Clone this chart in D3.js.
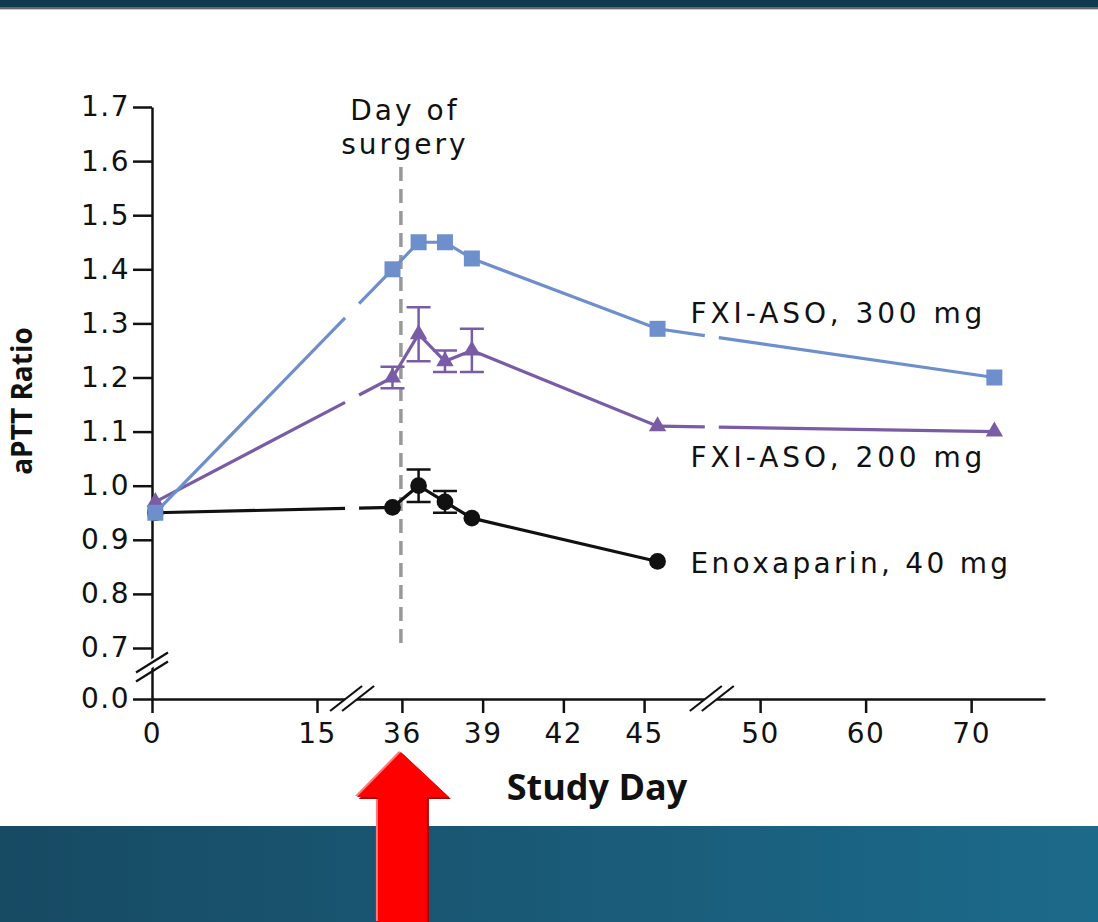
<!DOCTYPE html>
<html>
<head>
<meta charset="utf-8">
<script src="https://cdn.jsdelivr.net/npm/d3@7"></script>
<style>
  body { margin: 0; background: #fff; }
  svg { display: block; }
</style>
</head>
<body>
<svg></svg>
<script>
const svgWidth = 1098;
const svgHeight = 922;

const days300 = [0.3, 35.65, 36.62, 37.6, 38.6, 45.5, 72.2];
const aptt300 = [0.95, 1.40, 1.45, 1.45, 1.42, 1.29, 1.20];

const days200 = [0.3, 35.65, 36.62, 37.6, 38.6, 45.5, 72.2];
const aptt200 = [0.97, 1.20, 1.28, 1.23, 1.25, 1.11, 1.10];
const err200  = [0, 0.02, 0.05, 0.02, 0.04, 0, 0];

const daysEnox = [0.3, 35.65, 36.62, 37.6, 38.6, 45.5];
const apttEnox = [0.95, 0.96, 1.00, 0.97, 0.94, 0.86];
const errEnox  = [0, 0, 0.03, 0.02, 0, 0];

const xTicks = [0, 15, 36, 39, 42, 45, 50, 60, 70];
const yTicks = [0.0, 0.7, 0.8, 0.9, 1.0, 1.1, 1.2, 1.3, 1.4, 1.5, 1.6, 1.7];
const surgeryDay = 36;
const xBreaks = [19.4, 47.2];
const yBreak = 0.44;

const svg = d3.select("svg")
    .attr("width", svgWidth)
    .attr("height", svgHeight);

// broken axes -> polylinear scales
const x = d3.scaleLinear()
    .domain([0, 18, 35, 46, 48, 77])
    .range([152, 350, 375, 671, 739, 1045]);
const y = d3.scaleLinear()
    .domain([0, 0.7, 1.7])
    .range([699, 648, 107]);

// slide background: dark band on top, gradient band at bottom
const defs = svg.append("defs");
const grad = defs.append("linearGradient").attr("id", "band");
grad.append("stop").attr("offset", "0%").attr("stop-color", "#174a63");
grad.append("stop").attr("offset", "100%").attr("stop-color", "#1c6a8b");

svg.append("rect").attr("x", 0).attr("y", 0).attr("width", svgWidth).attr("height", 7).attr("fill", "#0f3a50");
svg.append("rect").attr("x", 0).attr("y", 7).attr("width", svgWidth).attr("height", 2).attr("fill", "#666");
svg.append("rect").attr("x", 0).attr("y", 9).attr("width", svgWidth).attr("height", 1).attr("fill", "#c8c8c8");
svg.append("rect").attr("x", 0).attr("y", 826).attr("width", svgWidth).attr("height", svgHeight - 826).attr("fill", "url(#band)");

const tickFont = g => g.selectAll("text")
    .attr("font-family", "'DejaVu Sans', sans-serif")
    .attr("font-size", 28)
    .attr("letter-spacing", 1.5)
    .attr("fill", "#111");

// axes
svg.append("g")
    .attr("transform", "translate(0," + y(0) + ")")
    .call(d3.axisBottom(x).tickValues(xTicks).tickSize(14).tickSizeOuter(0).tickPadding(10).tickFormat(d3.format("d")))
    .call(tickFont);
svg.append("g")
    .attr("transform", "translate(" + x(0) + ",0)")
    .call(d3.axisLeft(y).tickValues(yTicks).tickSize(19).tickSizeOuter(0).tickPadding(3).tickFormat(d3.format(".1f")))
    .call(tickFont);
svg.selectAll(".domain, .tick line").attr("stroke", "#111").attr("stroke-width", 2.5);

// axis break marks
xBreaks.forEach(b => {
    const bx = x(b), by = y(0);
    svg.append("path")
        .attr("d", `M${bx - 22},${by + 12} L${bx + 10},${by - 13} L${bx + 22},${by - 13} L${bx - 10},${by + 12}Z`)
        .attr("fill", "#fff");
    [-6, 6].forEach(o => svg.append("line")
        .attr("x1", bx + o - 16).attr("y1", by + 12)
        .attr("x2", bx + o + 16).attr("y2", by - 13)
        .attr("stroke", "#111").attr("stroke-width", 2.2));
});
{
    const bx = x(0), by = y(yBreak);
    svg.append("path")
        .attr("d", `M${bx - 15},${by + 2} L${bx + 16},${by - 19} L${bx + 16},${by - 10} L${bx - 15},${by + 11}Z`)
        .attr("fill", "#fff");
    [-4.5, 4.5].forEach(o => svg.append("line")
        .attr("x1", bx - 16).attr("y1", by + 10 + o)
        .attr("x2", bx + 16).attr("y2", by - 10 + o)
        .attr("stroke", "#111").attr("stroke-width", 2.2));
}

// day of surgery
svg.append("line")
    .attr("x1", x(surgeryDay) - 1).attr("x2", x(surgeryDay) - 1)
    .attr("y1", 167).attr("y2", 643)
    .attr("stroke", "#999").attr("stroke-width", 3.5)
    .attr("stroke-dasharray", "14,8");
svg.append("text")
    .attr("x", x(surgeryDay) + 3).attr("y", 120)
    .attr("text-anchor", "middle")
    .attr("font-family", "'DejaVu Sans', sans-serif").attr("font-size", 28).attr("letter-spacing", 3)
    .attr("fill", "#111")
    .text("Day of");
svg.append("text")
    .attr("x", x(surgeryDay) + 3).attr("y", 154)
    .attr("text-anchor", "middle")
    .attr("font-family", "'DejaVu Sans', sans-serif").attr("font-size", 28).attr("letter-spacing", 3)
    .attr("fill", "#111")
    .text("surgery");

// series
const series = [
    {name: "Enoxaparin, 40 mg", days: daysEnox, values: apttEnox, err: errEnox, color: "#111", shape: d3.symbolCircle, size: 220, labelDy: 12, ls: 3.3},
    {name: "FXI-ASO, 200 mg", days: days200, values: aptt200, err: err200, color: "#7a5ca6", shape: d3.symbolTriangle, size: 130, labelDy: 41, ls: 3.9},
    {name: "FXI-ASO, 300 mg", days: days300, values: aptt300, err: null, color: "#6d8fcc", shape: d3.symbolSquare, size: 256, labelDy: -6, ls: 3.9}
];

const gapHalf = 7;
function gappedPoints(s) {
    const pts = s.days.map((d, i) => [x(d), y(s.values[i])]);
    const out = [];
    pts.forEach((p, i) => {
        out.push(p);
        const q = pts[i + 1];
        if (!q) return;
        xBreaks.map(x).forEach(bx => {
            if (p[0] < bx && q[0] > bx) {
                const at = px => [px, p[1] + (q[1] - p[1]) * (px - p[0]) / (q[0] - p[0])];
                out.push(at(bx - gapHalf), null, at(bx + gapHalf));
            }
        });
    });
    return out;
}

const line = d3.line().defined(d => d !== null);

series.forEach(s => {
    const g = svg.append("g");
    g.append("path")
        .attr("d", line(gappedPoints(s)))
        .attr("fill", "none")
        .attr("stroke", s.color)
        .attr("stroke-width", 3.2);

    if (s.err) {
        s.days.forEach((d, i) => {
            const e = s.err[i];
            if (!e) return;
            const cx = x(d), y0 = y(s.values[i] - e), y1 = y(s.values[i] + e);
            g.append("path")
                .attr("d", `M${cx},${y0}V${y1}M${cx - 12},${y0}H${cx + 12}M${cx - 12},${y1}H${cx + 12}`)
                .attr("fill", "none")
                .attr("stroke", s.color)
                .attr("stroke-width", 2.5);
        });
    }

    g.selectAll(".pt")
        .data(s.days.map((d, i) => [d, s.values[i]]))
        .enter().append("path")
        .attr("transform", d => "translate(" + x(d[0]) + "," + y(d[1]) + ")")
        .attr("d", d3.symbol().type(s.shape).size(s.size))
        .attr("fill", s.color);

    const ld = s.days.find(d => d > 45);
    const li = s.days.indexOf(ld);
    svg.append("text")
        .attr("x", x(ld) + 33)
        .attr("y", y(s.values[li]) + s.labelDy)
        .attr("font-family", "'DejaVu Sans', sans-serif")
        .attr("font-size", 28)
        .attr("letter-spacing", s.ls)
        .attr("fill", "#111")
        .text(s.name);
});

// axis titles
svg.append("text")
    .attr("x", 597).attr("y", 800)
    .attr("text-anchor", "middle")
    .attr("font-family", "'Open Sans', sans-serif").attr("font-weight", 700).attr("font-size", 36)
    .attr("fill", "#111")
    .text("Study Day");
svg.append("text")
    .attr("transform", "translate(32,401) rotate(-90)")
    .attr("text-anchor", "middle")
    .attr("font-family", "'Open Sans', sans-serif").attr("font-weight", 700).attr("font-size", 28)
    .attr("fill", "#111")
    .text("aPTT Ratio");

// red arrow pointing at the day of surgery
const ax = x(surgeryDay);
const arrow = [[ax - 1, 752], [ax + 47, 797], [ax + 25, 797], [ax + 25, 922], [ax - 24, 922], [ax - 24, 797], [ax - 45, 797]];
const arrowLine = d3.line().curve(d3.curveLinearClosed);
svg.append("path").attr("d", arrowLine(arrow.map(p => [p[0] - 2, p[1] - 1]))).attr("fill", "#ff7a7a");
svg.append("path").attr("d", arrowLine(arrow.map(p => [p[0] + 2, p[1] + 2]))).attr("fill", "#a80000");
svg.append("path").attr("d", arrowLine(arrow)).attr("fill", "#ff0000");
</script>
</body>
</html>
